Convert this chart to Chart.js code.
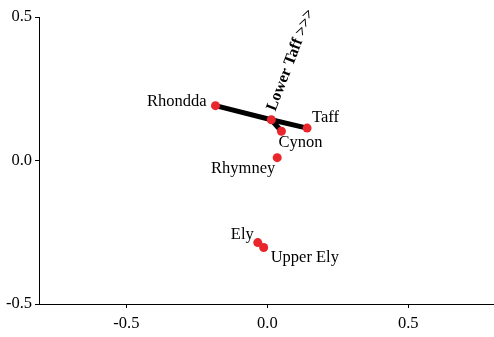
<!DOCTYPE html>
<html>
<head>
<meta charset="utf-8">
<script src="https://cdn.jsdelivr.net/npm/chart.js@4.4.1/dist/chart.umd.min.js"></script>
<style>
	html, body { margin: 0; padding: 0; background: #fff; overflow: hidden; }
	#wrap { width: 494px; height: 337px; }
</style>
</head>
<body>
<div id="wrap"><canvas id="chart"></canvas></div>
<script>
'use strict';

// river sites and their ordination scores
const names = ['Rhondda', 'Lower Taff', 'Taff', 'Cynon', 'Rhymney', 'Ely', 'Upper Ely'];
const xVals = [-0.184, 0.014, 0.141, 0.050, 0.035, -0.034, -0.013];
const yVals = [0.191, 0.142, 0.113, 0.102, 0.010, -0.286, -0.303];

// links drawn between sites (index pairs)
const thickLinks = [[0, 1], [1, 2], [1, 3]];
const thinLinks = [[5, 6]];

const xTicks = [-0.5, 0.0, 0.5];
const yTicks = [-0.5, 0.0, 0.5];

const arrowText = 'Lower Taff >>>';
const arrowSite = 1;

const serif = '"Liberation Serif", "Times New Roman", serif';

// where each name sits relative to its dot: dx, dy, alignment
const labelPos = {
	'Rhondda': [-9, 0, 'right'],
	'Taff': [5, -6, 'left'],
	'Cynon': [-3, 16, 'left'],
	'Rhymney': [-2, 15, 'right'],
	'Ely': [-4, -4, 'right'],
	'Upper Ely': [7, 15, 'left']
};

function pts(idx){
	return idx.map(i => ({x: xVals[i], y: yVals[i]}));
}

let datasets = [];
thickLinks.forEach(l => {
	datasets.push({
		data: pts(l), showLine: true, borderColor: '#000', borderWidth: 5,
		pointRadius: 0, borderCapStyle: 'round', order: 2
	});
});
thinLinks.forEach(l => {
	datasets.push({
		data: pts(l), showLine: true, borderColor: '#000', borderWidth: 2,
		pointRadius: 0, order: 2
	});
});
datasets.push({
	data: pts(names.map((n, i) => i)),
	showLine: false,
	pointRadius: 4.5,
	pointBackgroundColor: '#e8262b',
	pointBorderWidth: 0,
	order: 1
});

const siteLabels = {
	id: 'siteLabels',
	afterDatasetsDraw(chart){
		const ctx = chart.ctx;
		const xs = chart.scales.x, ys = chart.scales.y;
		ctx.save();
		ctx.fillStyle = '#000';
		ctx.font = '16.5px ' + serif;
		ctx.textBaseline = 'alphabetic';
		names.forEach((n, i) => {
			const p = labelPos[n];
			if(!p) return;
			ctx.textAlign = p[2];
			ctx.fillText(n, xs.getPixelForValue(xVals[i]) + p[0], ys.getPixelForValue(yVals[i]) + p[1]);
		});
		// rotated arrow label
		const ax = xs.getPixelForValue(xVals[arrowSite]);
		const ay = ys.getPixelForValue(yVals[arrowSite]);
		ctx.translate(ax + 4, ay - 8);
		ctx.rotate(-69 * Math.PI / 180);
		ctx.font = 'bold 16px ' + serif;
		ctx.textAlign = 'left';
		ctx.fillText(arrowText, 0, 0);
		ctx.restore();
	}
};

new Chart(document.getElementById('chart'), {
	type: 'scatter',
	data: { datasets: datasets },
	options: {
		responsive: true,
		maintainAspectRatio: false,
		animation: false,
		layout: { autoPadding: false, padding: { top: 17, right: 0, left: 0, bottom: 0 } },
		plugins: { legend: { display: false }, tooltip: { enabled: false } },
		scales: {
			x: {
				min: -0.81, max: 0.804,
				afterBuildTicks: s => { s.ticks = xTicks.map(v => ({value: v})); },
				afterFit: s => { s.height = 33; s.paddingLeft = 0; s.paddingRight = 0; },
				grid: { drawOnChartArea: false, drawTicks: true, tickLength: 4, color: '#000' },
				border: { color: '#000', width: 1 },
				ticks: {
					color: '#000', padding: 6,
					font: { family: serif, size: 16.5 },
					callback: v => v.toFixed(1)
				}
			},
			y: {
				min: -0.5, max: 0.5,
				afterBuildTicks: s => { s.ticks = yTicks.map(v => ({value: v})); },
				afterFit: s => { s.width = 39; },
				grid: { drawOnChartArea: false, drawTicks: true, tickLength: 4, color: '#000' },
				border: { color: '#000', width: 1 },
				ticks: {
					color: '#000', padding: 3,
					font: { family: serif, size: 16.5 },
					callback: v => v.toFixed(1)
				}
			}
		}
	},
	plugins: [siteLabels]
});
</script>
</body>
</html>
